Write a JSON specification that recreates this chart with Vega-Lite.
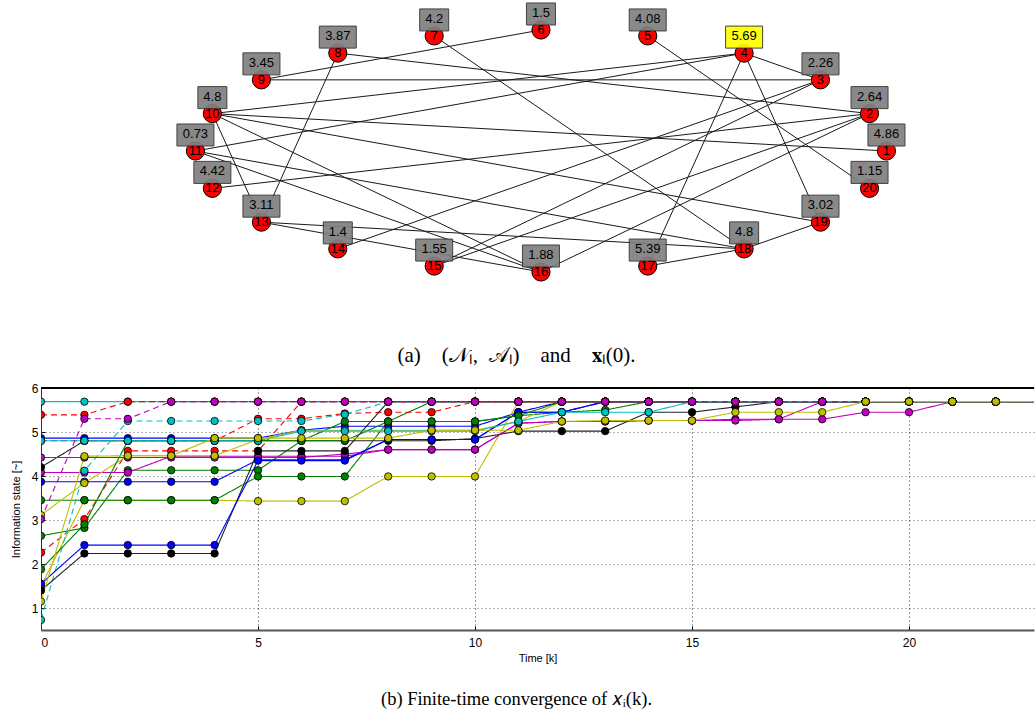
{
"$schema": "https://vega.github.io/schema/vega-lite/v6.json",
"padding": {"left": 10, "top": 0, "right": 0, "bottom": 0},
"spacing": 16,
"config": {"view": {"stroke": null}, "font": "Liberation Sans"},
"datasets": {
"nodes": [
{"id":1,"x":1,"y":0,"val":"4.86"},
{"id":2,"x":0.951,"y":0.309,"val":"2.64"},
{"id":3,"x":0.809,"y":0.588,"val":"2.26"},
{"id":4,"x":0.588,"y":0.809,"val":"5.69"},
{"id":5,"x":0.309,"y":0.951,"val":"4.08"},
{"id":6,"x":0,"y":1,"val":"1.5"},
{"id":7,"x":-0.309,"y":0.951,"val":"4.2"},
{"id":8,"x":-0.588,"y":0.809,"val":"3.87"},
{"id":9,"x":-0.809,"y":0.588,"val":"3.45"},
{"id":10,"x":-0.951,"y":0.309,"val":"4.8"},
{"id":11,"x":-1,"y":0,"val":"0.73"},
{"id":12,"x":-0.951,"y":-0.309,"val":"4.42"},
{"id":13,"x":-0.809,"y":-0.588,"val":"3.11"},
{"id":14,"x":-0.588,"y":-0.809,"val":"1.4"},
{"id":15,"x":-0.309,"y":-0.951,"val":"1.55"},
{"id":16,"x":0,"y":-1,"val":"1.88"},
{"id":17,"x":0.309,"y":-0.951,"val":"5.39"},
{"id":18,"x":0.588,"y":-0.809,"val":"4.8"},
{"id":19,"x":0.809,"y":-0.588,"val":"3.02"},
{"id":20,"x":0.951,"y":-0.309,"val":"1.15"}
],
"edges": [
{"s":9,"t":6},{"s":7,"t":18},{"s":5,"t":20},{"s":4,"t":3},{"s":4,"t":19},{"s":4,"t":17},{"s":4,"t":10},{"s":4,"t":11},{"s":9,"t":3},{"s":8,"t":2},{"s":8,"t":13},{"s":10,"t":13},{"s":10,"t":1},{"s":10,"t":19},{"s":10,"t":16},{"s":11,"t":18},{"s":11,"t":16},{"s":12,"t":2},{"s":13,"t":18},{"s":13,"t":16},{"s":14,"t":3},{"s":15,"t":3},{"s":15,"t":2},{"s":16,"t":2},{"s":17,"t":18},{"s":19,"t":18}
],
"series": [
{"n":1,"k":0,"v":4.86},{"n":1,"k":1,"v":4.86},{"n":1,"k":2,"v":4.86},{"n":1,"k":3,"v":4.86},{"n":1,"k":4,"v":4.86},{"n":1,"k":5,"v":4.86},{"n":1,"k":6,"v":5.04},{"n":1,"k":7,"v":5.13},{"n":1,"k":8,"v":5.13},{"n":1,"k":9,"v":5.13},{"n":1,"k":10,"v":5.13},{"n":1,"k":11,"v":5.45},{"n":1,"k":12,"v":5.45},{"n":1,"k":13,"v":5.69},{"n":1,"k":14,"v":5.69},{"n":1,"k":15,"v":5.69},{"n":1,"k":16,"v":5.69},{"n":1,"k":17,"v":5.69},{"n":1,"k":18,"v":5.69},{"n":1,"k":19,"v":5.69},{"n":1,"k":20,"v":5.69},{"n":1,"k":21,"v":5.69},{"n":1,"k":22,"v":5.69},{"n":1,"k":23,"v":5.69},
{"n":2,"k":0,"v":2.64},{"n":2,"k":1,"v":2.82},{"n":2,"k":2,"v":4.13},{"n":2,"k":3,"v":4.13},{"n":2,"k":4,"v":4.13},{"n":2,"k":5,"v":4.13},{"n":2,"k":6,"v":4.8},{"n":2,"k":7,"v":5.24},{"n":2,"k":8,"v":5.24},{"n":2,"k":9,"v":5.24},{"n":2,"k":10,"v":5.24},{"n":2,"k":11,"v":5.37},{"n":2,"k":12,"v":5.45},{"n":2,"k":13,"v":5.5},{"n":2,"k":14,"v":5.69},{"n":2,"k":15,"v":5.69},{"n":2,"k":16,"v":5.69},{"n":2,"k":17,"v":5.69},{"n":2,"k":18,"v":5.69},{"n":2,"k":19,"v":5.69},{"n":2,"k":20,"v":5.69},{"n":2,"k":21,"v":5.69},{"n":2,"k":22,"v":5.69},{"n":2,"k":23,"v":5.69},
{"n":3,"k":0,"v":2.26},{"n":3,"k":1,"v":3.02},{"n":3,"k":2,"v":4.57},{"n":3,"k":3,"v":4.57},{"n":3,"k":4,"v":4.57},{"n":3,"k":5,"v":4.57},{"n":3,"k":6,"v":5.69},{"n":3,"k":7,"v":5.69},{"n":3,"k":8,"v":5.69},{"n":3,"k":9,"v":5.69},{"n":3,"k":10,"v":5.69},{"n":3,"k":11,"v":5.69},{"n":3,"k":12,"v":5.69},{"n":3,"k":13,"v":5.69},{"n":3,"k":14,"v":5.69},{"n":3,"k":15,"v":5.69},{"n":3,"k":16,"v":5.69},{"n":3,"k":17,"v":5.69},{"n":3,"k":18,"v":5.69},{"n":3,"k":19,"v":5.69},{"n":3,"k":20,"v":5.69},{"n":3,"k":21,"v":5.69},{"n":3,"k":22,"v":5.69},{"n":3,"k":23,"v":5.69},
{"n":4,"k":0,"v":5.69},{"n":4,"k":1,"v":5.69},{"n":4,"k":2,"v":5.69},{"n":4,"k":3,"v":5.69},{"n":4,"k":4,"v":5.69},{"n":4,"k":5,"v":5.69},{"n":4,"k":6,"v":5.69},{"n":4,"k":7,"v":5.69},{"n":4,"k":8,"v":5.69},{"n":4,"k":9,"v":5.69},{"n":4,"k":10,"v":5.69},{"n":4,"k":11,"v":5.69},{"n":4,"k":12,"v":5.69},{"n":4,"k":13,"v":5.69},{"n":4,"k":14,"v":5.69},{"n":4,"k":15,"v":5.69},{"n":4,"k":16,"v":5.69},{"n":4,"k":17,"v":5.69},{"n":4,"k":18,"v":5.69},{"n":4,"k":19,"v":5.69},{"n":4,"k":20,"v":5.69},{"n":4,"k":21,"v":5.69},{"n":4,"k":22,"v":5.69},{"n":4,"k":23,"v":5.69},
{"n":5,"k":0,"v":4.08},{"n":5,"k":1,"v":4.08},{"n":5,"k":2,"v":4.08},{"n":5,"k":3,"v":4.45},{"n":5,"k":4,"v":4.45},{"n":5,"k":5,"v":4.45},{"n":5,"k":6,"v":4.45},{"n":5,"k":7,"v":4.45},{"n":5,"k":8,"v":4.6},{"n":5,"k":9,"v":4.6},{"n":5,"k":10,"v":4.6},{"n":5,"k":11,"v":5.2},{"n":5,"k":12,"v":5.24},{"n":5,"k":13,"v":5.24},{"n":5,"k":14,"v":5.26},{"n":5,"k":15,"v":5.26},{"n":5,"k":16,"v":5.29},{"n":5,"k":17,"v":5.29},{"n":5,"k":18,"v":5.29},{"n":5,"k":19,"v":5.45},{"n":5,"k":20,"v":5.45},{"n":5,"k":21,"v":5.69},{"n":5,"k":22,"v":5.69},{"n":5,"k":23,"v":5.69},
{"n":6,"k":0,"v":1.5},{"n":6,"k":1,"v":3.45},{"n":6,"k":2,"v":3.45},{"n":6,"k":3,"v":3.45},{"n":6,"k":4,"v":3.45},{"n":6,"k":5,"v":3.43},{"n":6,"k":6,"v":3.43},{"n":6,"k":7,"v":3.43},{"n":6,"k":8,"v":3.99},{"n":6,"k":9,"v":3.99},{"n":6,"k":10,"v":3.99},{"n":6,"k":11,"v":5.69},{"n":6,"k":12,"v":5.69},{"n":6,"k":13,"v":5.69},{"n":6,"k":14,"v":5.69},{"n":6,"k":15,"v":5.69},{"n":6,"k":16,"v":5.69},{"n":6,"k":17,"v":5.69},{"n":6,"k":18,"v":5.69},{"n":6,"k":19,"v":5.69},{"n":6,"k":20,"v":5.69},{"n":6,"k":21,"v":5.69},{"n":6,"k":22,"v":5.69},{"n":6,"k":23,"v":5.69},
{"n":7,"k":0,"v":4.2},{"n":7,"k":1,"v":4.8},{"n":7,"k":2,"v":4.8},{"n":7,"k":3,"v":4.8},{"n":7,"k":4,"v":4.8},{"n":7,"k":5,"v":4.8},{"n":7,"k":6,"v":4.8},{"n":7,"k":7,"v":4.8},{"n":7,"k":8,"v":4.8},{"n":7,"k":9,"v":4.8},{"n":7,"k":10,"v":4.85},{"n":7,"k":11,"v":5.02},{"n":7,"k":12,"v":5.02},{"n":7,"k":13,"v":5.02},{"n":7,"k":14,"v":5.45},{"n":7,"k":15,"v":5.45},{"n":7,"k":16,"v":5.57},{"n":7,"k":17,"v":5.69},{"n":7,"k":18,"v":5.69},{"n":7,"k":19,"v":5.69},{"n":7,"k":20,"v":5.69},{"n":7,"k":21,"v":5.69},{"n":7,"k":22,"v":5.69},{"n":7,"k":23,"v":5.69},
{"n":8,"k":0,"v":3.87},{"n":8,"k":1,"v":3.87},{"n":8,"k":2,"v":3.87},{"n":8,"k":3,"v":3.87},{"n":8,"k":4,"v":3.87},{"n":8,"k":5,"v":4.37},{"n":8,"k":6,"v":4.37},{"n":8,"k":7,"v":4.37},{"n":8,"k":8,"v":4.83},{"n":8,"k":9,"v":4.83},{"n":8,"k":10,"v":4.83},{"n":8,"k":11,"v":5.45},{"n":8,"k":12,"v":5.69},{"n":8,"k":13,"v":5.69},{"n":8,"k":14,"v":5.69},{"n":8,"k":15,"v":5.69},{"n":8,"k":16,"v":5.69},{"n":8,"k":17,"v":5.69},{"n":8,"k":18,"v":5.69},{"n":8,"k":19,"v":5.69},{"n":8,"k":20,"v":5.69},{"n":8,"k":21,"v":5.69},{"n":8,"k":22,"v":5.69},{"n":8,"k":23,"v":5.69},
{"n":9,"k":0,"v":3.45},{"n":9,"k":1,"v":3.45},{"n":9,"k":2,"v":3.45},{"n":9,"k":3,"v":3.45},{"n":9,"k":4,"v":3.45},{"n":9,"k":5,"v":3.99},{"n":9,"k":6,"v":3.99},{"n":9,"k":7,"v":3.99},{"n":9,"k":8,"v":5.24},{"n":9,"k":9,"v":5.69},{"n":9,"k":10,"v":5.69},{"n":9,"k":11,"v":5.69},{"n":9,"k":12,"v":5.69},{"n":9,"k":13,"v":5.69},{"n":9,"k":14,"v":5.69},{"n":9,"k":15,"v":5.69},{"n":9,"k":16,"v":5.69},{"n":9,"k":17,"v":5.69},{"n":9,"k":18,"v":5.69},{"n":9,"k":19,"v":5.69},{"n":9,"k":20,"v":5.69},{"n":9,"k":21,"v":5.69},{"n":9,"k":22,"v":5.69},{"n":9,"k":23,"v":5.69},
{"n":10,"k":0,"v":4.8},{"n":10,"k":1,"v":4.8},{"n":10,"k":2,"v":4.8},{"n":10,"k":3,"v":4.8},{"n":10,"k":4,"v":4.8},{"n":10,"k":5,"v":5.3},{"n":10,"k":6,"v":5.3},{"n":10,"k":7,"v":5.42},{"n":10,"k":8,"v":5.45},{"n":10,"k":9,"v":5.45},{"n":10,"k":10,"v":5.69},{"n":10,"k":11,"v":5.69},{"n":10,"k":12,"v":5.69},{"n":10,"k":13,"v":5.69},{"n":10,"k":14,"v":5.69},{"n":10,"k":15,"v":5.69},{"n":10,"k":16,"v":5.69},{"n":10,"k":17,"v":5.69},{"n":10,"k":18,"v":5.69},{"n":10,"k":19,"v":5.69},{"n":10,"k":20,"v":5.69},{"n":10,"k":21,"v":5.69},{"n":10,"k":22,"v":5.69},{"n":10,"k":23,"v":5.69},
{"n":11,"k":0,"v":0.73},{"n":11,"k":1,"v":4.12},{"n":11,"k":2,"v":5.25},{"n":11,"k":3,"v":5.25},{"n":11,"k":4,"v":5.25},{"n":11,"k":5,"v":5.25},{"n":11,"k":6,"v":5.25},{"n":11,"k":7,"v":5.4},{"n":11,"k":8,"v":5.69},{"n":11,"k":9,"v":5.69},{"n":11,"k":10,"v":5.69},{"n":11,"k":11,"v":5.69},{"n":11,"k":12,"v":5.69},{"n":11,"k":13,"v":5.69},{"n":11,"k":14,"v":5.69},{"n":11,"k":15,"v":5.69},{"n":11,"k":16,"v":5.69},{"n":11,"k":17,"v":5.69},{"n":11,"k":18,"v":5.69},{"n":11,"k":19,"v":5.69},{"n":11,"k":20,"v":5.69},{"n":11,"k":21,"v":5.69},{"n":11,"k":22,"v":5.69},{"n":11,"k":23,"v":5.69},
{"n":12,"k":0,"v":4.42},{"n":12,"k":1,"v":4.42},{"n":12,"k":2,"v":4.42},{"n":12,"k":3,"v":4.42},{"n":12,"k":4,"v":4.42},{"n":12,"k":5,"v":4.42},{"n":12,"k":6,"v":4.42},{"n":12,"k":7,"v":4.5},{"n":12,"k":8,"v":4.6},{"n":12,"k":9,"v":4.6},{"n":12,"k":10,"v":4.6},{"n":12,"k":11,"v":5.2},{"n":12,"k":12,"v":5.24},{"n":12,"k":13,"v":5.24},{"n":12,"k":14,"v":5.26},{"n":12,"k":15,"v":5.26},{"n":12,"k":16,"v":5.26},{"n":12,"k":17,"v":5.29},{"n":12,"k":18,"v":5.69},{"n":12,"k":19,"v":5.69},{"n":12,"k":20,"v":5.69},{"n":12,"k":21,"v":5.69},{"n":12,"k":22,"v":5.69},{"n":12,"k":23,"v":5.69},
{"n":13,"k":0,"v":3.11},{"n":13,"k":1,"v":3.84},{"n":13,"k":2,"v":4.46},{"n":13,"k":3,"v":4.46},{"n":13,"k":4,"v":4.46},{"n":13,"k":5,"v":4.83},{"n":13,"k":6,"v":5.04},{"n":13,"k":7,"v":5.04},{"n":13,"k":8,"v":5.04},{"n":13,"k":9,"v":5.04},{"n":13,"k":10,"v":5.04},{"n":13,"k":11,"v":5.24},{"n":13,"k":12,"v":5.69},{"n":13,"k":13,"v":5.69},{"n":13,"k":14,"v":5.69},{"n":13,"k":15,"v":5.69},{"n":13,"k":16,"v":5.69},{"n":13,"k":17,"v":5.69},{"n":13,"k":18,"v":5.69},{"n":13,"k":19,"v":5.69},{"n":13,"k":20,"v":5.69},{"n":13,"k":21,"v":5.69},{"n":13,"k":22,"v":5.69},{"n":13,"k":23,"v":5.69},
{"n":14,"k":0,"v":1.4},{"n":14,"k":1,"v":2.24},{"n":14,"k":2,"v":2.24},{"n":14,"k":3,"v":2.24},{"n":14,"k":4,"v":2.24},{"n":14,"k":5,"v":4.57},{"n":14,"k":6,"v":4.57},{"n":14,"k":7,"v":4.57},{"n":14,"k":8,"v":5.69},{"n":14,"k":9,"v":5.69},{"n":14,"k":10,"v":5.69},{"n":14,"k":11,"v":5.69},{"n":14,"k":12,"v":5.69},{"n":14,"k":13,"v":5.69},{"n":14,"k":14,"v":5.69},{"n":14,"k":15,"v":5.69},{"n":14,"k":16,"v":5.69},{"n":14,"k":17,"v":5.69},{"n":14,"k":18,"v":5.69},{"n":14,"k":19,"v":5.69},{"n":14,"k":20,"v":5.69},{"n":14,"k":21,"v":5.69},{"n":14,"k":22,"v":5.69},{"n":14,"k":23,"v":5.69},
{"n":15,"k":0,"v":1.55},{"n":15,"k":1,"v":2.43},{"n":15,"k":2,"v":2.43},{"n":15,"k":3,"v":2.43},{"n":15,"k":4,"v":2.43},{"n":15,"k":5,"v":4.35},{"n":15,"k":6,"v":4.35},{"n":15,"k":7,"v":4.35},{"n":15,"k":8,"v":4.83},{"n":15,"k":9,"v":4.83},{"n":15,"k":10,"v":4.83},{"n":15,"k":11,"v":5.45},{"n":15,"k":12,"v":5.45},{"n":15,"k":13,"v":5.69},{"n":15,"k":14,"v":5.69},{"n":15,"k":15,"v":5.69},{"n":15,"k":16,"v":5.69},{"n":15,"k":17,"v":5.69},{"n":15,"k":18,"v":5.69},{"n":15,"k":19,"v":5.69},{"n":15,"k":20,"v":5.69},{"n":15,"k":21,"v":5.69},{"n":15,"k":22,"v":5.69},{"n":15,"k":23,"v":5.69},
{"n":16,"k":0,"v":1.88},{"n":16,"k":1,"v":2.9},{"n":16,"k":2,"v":4.8},{"n":16,"k":3,"v":4.8},{"n":16,"k":4,"v":4.8},{"n":16,"k":5,"v":4.8},{"n":16,"k":6,"v":4.8},{"n":16,"k":7,"v":4.8},{"n":16,"k":8,"v":5.24},{"n":16,"k":9,"v":5.24},{"n":16,"k":10,"v":5.24},{"n":16,"k":11,"v":5.37},{"n":16,"k":12,"v":5.69},{"n":16,"k":13,"v":5.69},{"n":16,"k":14,"v":5.69},{"n":16,"k":15,"v":5.69},{"n":16,"k":16,"v":5.69},{"n":16,"k":17,"v":5.69},{"n":16,"k":18,"v":5.69},{"n":16,"k":19,"v":5.69},{"n":16,"k":20,"v":5.69},{"n":16,"k":21,"v":5.69},{"n":16,"k":22,"v":5.69},{"n":16,"k":23,"v":5.69},
{"n":17,"k":0,"v":5.39},{"n":17,"k":1,"v":5.39},{"n":17,"k":2,"v":5.69},{"n":17,"k":3,"v":5.69},{"n":17,"k":4,"v":5.69},{"n":17,"k":5,"v":5.69},{"n":17,"k":6,"v":5.69},{"n":17,"k":7,"v":5.69},{"n":17,"k":8,"v":5.69},{"n":17,"k":9,"v":5.69},{"n":17,"k":10,"v":5.69},{"n":17,"k":11,"v":5.69},{"n":17,"k":12,"v":5.69},{"n":17,"k":13,"v":5.69},{"n":17,"k":14,"v":5.69},{"n":17,"k":15,"v":5.69},{"n":17,"k":16,"v":5.69},{"n":17,"k":17,"v":5.69},{"n":17,"k":18,"v":5.69},{"n":17,"k":19,"v":5.69},{"n":17,"k":20,"v":5.69},{"n":17,"k":21,"v":5.69},{"n":17,"k":22,"v":5.69},{"n":17,"k":23,"v":5.69},
{"n":18,"k":0,"v":4.8},{"n":18,"k":1,"v":4.8},{"n":18,"k":2,"v":4.8},{"n":18,"k":3,"v":4.8},{"n":18,"k":4,"v":4.8},{"n":18,"k":5,"v":4.8},{"n":18,"k":6,"v":5.02},{"n":18,"k":7,"v":5.02},{"n":18,"k":8,"v":5.02},{"n":18,"k":9,"v":5.02},{"n":18,"k":10,"v":5.02},{"n":18,"k":11,"v":5.24},{"n":18,"k":12,"v":5.45},{"n":18,"k":13,"v":5.45},{"n":18,"k":14,"v":5.45},{"n":18,"k":15,"v":5.69},{"n":18,"k":16,"v":5.69},{"n":18,"k":17,"v":5.69},{"n":18,"k":18,"v":5.69},{"n":18,"k":19,"v":5.69},{"n":18,"k":20,"v":5.69},{"n":18,"k":21,"v":5.69},{"n":18,"k":22,"v":5.69},{"n":18,"k":23,"v":5.69},
{"n":19,"k":0,"v":3.02},{"n":19,"k":1,"v":5.3},{"n":19,"k":2,"v":5.3},{"n":19,"k":3,"v":5.69},{"n":19,"k":4,"v":5.69},{"n":19,"k":5,"v":5.69},{"n":19,"k":6,"v":5.69},{"n":19,"k":7,"v":5.69},{"n":19,"k":8,"v":5.69},{"n":19,"k":9,"v":5.69},{"n":19,"k":10,"v":5.69},{"n":19,"k":11,"v":5.69},{"n":19,"k":12,"v":5.69},{"n":19,"k":13,"v":5.69},{"n":19,"k":14,"v":5.69},{"n":19,"k":15,"v":5.69},{"n":19,"k":16,"v":5.69},{"n":19,"k":17,"v":5.69},{"n":19,"k":18,"v":5.69},{"n":19,"k":19,"v":5.69},{"n":19,"k":20,"v":5.69},{"n":19,"k":21,"v":5.69},{"n":19,"k":22,"v":5.69},{"n":19,"k":23,"v":5.69},
{"n":20,"k":0,"v":1.15},{"n":20,"k":1,"v":4.45},{"n":20,"k":2,"v":4.46},{"n":20,"k":3,"v":4.46},{"n":20,"k":4,"v":4.86},{"n":20,"k":5,"v":4.86},{"n":20,"k":6,"v":4.86},{"n":20,"k":7,"v":4.86},{"n":20,"k":8,"v":4.86},{"n":20,"k":9,"v":5.04},{"n":20,"k":10,"v":5.04},{"n":20,"k":11,"v":5.04},{"n":20,"k":12,"v":5.24},{"n":20,"k":13,"v":5.26},{"n":20,"k":14,"v":5.26},{"n":20,"k":15,"v":5.26},{"n":20,"k":16,"v":5.45},{"n":20,"k":17,"v":5.45},{"n":20,"k":18,"v":5.45},{"n":20,"k":19,"v":5.69},{"n":20,"k":20,"v":5.69},{"n":20,"k":21,"v":5.69},{"n":20,"k":22,"v":5.69},{"n":20,"k":23,"v":5.69}
]
},
"vconcat": [
{
"width": 993,
"height": 330,
"title": {"text": "(a)\u2003(𝒩ₗ,\u2002𝒜ₗ)\u2003and\u2003𝐱ₗ(0).", "orient": "bottom", "offset": 14, "dx": -21, "font": "Liberation Serif", "fontSize": 21, "fontWeight": "normal", "color": "#000"},
"layer": [
{
"data": {"name": "edges"},
"transform": [
{"lookup": "s", "from": {"data": {"name": "nodes"}, "key": "id", "fields": ["x", "y"]}, "as": ["xa", "ya"]},
{"lookup": "t", "from": {"data": {"name": "nodes"}, "key": "id", "fields": ["x", "y"]}, "as": ["xb", "yb"]}
],
"mark": {"type": "rule", "color": "#1a1a1a", "strokeWidth": 1},
"encoding": {
"x": {"field": "xa", "type": "quantitative", "scale": {"domain": [-1.447, 1.427], "nice": false, "zero": false}, "axis": null},
"y": {"field": "ya", "type": "quantitative", "scale": {"domain": [-1.4876, 1.2397], "nice": false, "zero": false}, "axis": null},
"x2": {"field": "xb"},
"y2": {"field": "yb"}
}
},
{
"data": {"name": "nodes"},
"mark": {"type": "point", "filled": true, "fill": "#ff0000", "stroke": "#000", "strokeWidth": 1, "size": 330, "opacity": 1},
"encoding": {
"x": {"field": "x", "type": "quantitative"},
"y": {"field": "y", "type": "quantitative"}
}
},
{
"data": {"name": "nodes"},
"transform": [{"filter": "length(datum.val) == 4"}],
"mark": {"type": "point", "shape": "M-1,-0.595H1V0.595H-1Z", "filled": true, "size": 1369, "stroke": "#333", "strokeWidth": 1, "yOffset": -16, "opacity": 0.92},
"encoding": {
"x": {"field": "x", "type": "quantitative"},
"y": {"field": "y", "type": "quantitative"},
"fill": {"condition": {"test": "datum.id == 4", "value": "#ffff00"}, "value": "#808080"}
}
},
{
"data": {"name": "nodes"},
"transform": [{"filter": "length(datum.val) == 3"}],
"mark": {"type": "point", "shape": "M-1,-0.759H1V0.759H-1Z", "filled": true, "size": 841, "stroke": "#333", "strokeWidth": 1, "yOffset": -16, "opacity": 0.92, "fill": "#808080"},
"encoding": {
"x": {"field": "x", "type": "quantitative"},
"y": {"field": "y", "type": "quantitative"}
}
},
{
"data": {"name": "nodes"},
"mark": {"type": "text", "font": "Liberation Sans", "fontSize": 13, "color": "#000", "baseline": "middle", "align": "center"},
"encoding": {
"x": {"field": "x", "type": "quantitative"},
"y": {"field": "y", "type": "quantitative"},
"text": {"field": "id"}
}
},
{
"data": {"name": "nodes"},
"mark": {"type": "text", "font": "Liberation Sans", "fontSize": 13, "color": "#000", "baseline": "middle", "align": "center", "yOffset": -17},
"encoding": {
"x": {"field": "x", "type": "quantitative"},
"y": {"field": "y", "type": "quantitative"},
"text": {"field": "val"}
}
}
]
},
{
"width": 993,
"height": 242,
"data": {"name": "series"},
"title": {"text": "(b) Finite-time convergence of 𝑥ᵢ(k).", "orient": "bottom", "offset": 27, "dx": -21, "font": "Liberation Serif", "fontSize": 18.5, "fontWeight": "normal", "color": "#000"},
"layer": [
{
"mark": {"type": "line", "strokeWidth": 1.1, "clip": true},
"encoding": {
"x": {"field": "k", "type": "quantitative", "scale": {"domain": [0, 22.88], "nice": false, "zero": false},
"axis": {"values": [0, 5, 10, 15, 20], "title": "Time [k]", "grid": true, "gridDash": [1, 3], "gridColor": "#000", "gridOpacity": 0.8, "domainColor": "#555", "domainWidth": 2, "tickSize": -4, "tickColor": "#000", "labelFont": "Liberation Sans", "labelFontSize": 12, "labelColor": "#000", "labelPadding": 11, "titleFont": "Liberation Sans", "titleFontSize": 11, "titleFontWeight": "normal", "titleColor": "#000", "titlePadding": 4}},
"y": {"field": "v", "type": "quantitative", "scale": {"domain": [0.5, 6], "nice": false, "zero": false},
"axis": {"values": [1, 2, 3, 4, 5, 6], "title": "Information state [~]", "grid": true, "gridDash": [1, 3], "gridColor": "#444", "gridOpacity": 0.8, "domainColor": "#333", "domainWidth": 1, "tickSize": -4, "tickColor": "#000", "labelFont": "Liberation Sans", "labelFontSize": 12, "labelColor": "#000", "labelPadding": 7, "titleFont": "Liberation Sans", "titleFontSize": 11, "titleFontWeight": "normal", "titleColor": "#000", "titlePadding": 10}},
"color": {"field": "n", "type": "nominal", "legend": null, "scale": {"domain": [1,2,3,4,5,6,7,8,9,10,11,12,13,14,15,16,17,18,19,20], "range": ["#0000ff","#008000","#ff0000","#00bfbf","#bf00bf","#bfbf00","#222222","#0000ff","#008000","#ff0000","#00bfbf","#bf00bf","#bfbf00","#222222","#0000ff","#008000","#ff0000","#00bfbf","#bf00bf","#bfbf00"]}},
"strokeDash": {"field": "n", "type": "nominal", "legend": null, "scale": {"domain": [1,2,3,4,5,6,7,8,9,10,11,12,13,14,15,16,17,18,19,20], "range": [[1,0],[1,0],[6,4],[1,0],[1,0],[1,0],[1,0],[1,0],[1,0],[6,4],[6,4],[1,0],[1,0],[1,0],[1,0],[1,0],[6,4],[1,0],[6,4],[1,0]]}}
}
},
{
"mark": {"type": "point", "filled": true, "size": 55, "stroke": "#000", "strokeWidth": 0.8, "opacity": 1, "clip": true},
"encoding": {
"x": {"field": "k", "type": "quantitative"},
"y": {"field": "v", "type": "quantitative"},
"fill": {"field": "n", "type": "nominal", "legend": null, "scale": {"domain": [1,2,3,4,5,6,7,8,9,10,11,12,13,14,15,16,17,18,19,20], "range": ["#0000ff","#008000","#ff0000","#00bfbf","#bf00bf","#bfbf00","#000000","#0000ff","#008000","#ff0000","#00bfbf","#bf00bf","#bfbf00","#000000","#0000ff","#008000","#ff0000","#00bfbf","#bf00bf","#bfbf00"]}}
}
},
{
"mark": {"type": "rule", "color": "#000", "strokeWidth": 1},
"encoding": {"y": {"datum": 6}}
}
]
}
]
}
